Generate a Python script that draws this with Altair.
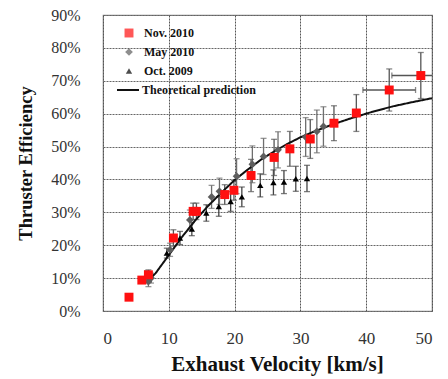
import altair as alt
import pandas as pd

# ---- data ----
nov_v = [3.95, 5.9, 6.9, 10.7, 13.7, 14.2, 18.5, 19.9, 22.5, 26.0, 28.4, 31.5, 35.1, 38.5, 43.5, 48.3]
nov_eff = [4.2, 9.4, 11.0, 22.2, 30.3, 30.3, 35.4, 36.7, 41.2, 46.7, 49.3, 52.3, 57.1, 60.2, 67.2, 71.6]
nov_err = [0, 0.8, 1.5, 2.5, 2.5, 2.5, 3.0, 3.0, 4.9, 5.5, 5.3, 5.9, 5.3, 5.6, 6.4, 7.0]
nov_verr = [0, 0, 0, 0, 0, 0, 0, 0, 0, 0, 0, 0, 0, 0, 4.0, 4.4]

may_v = [6.9, 7.3, 10.2, 13.2, 16.5, 17.7, 20.3, 22.7, 24.4, 26.6, 30.8, 32.5, 33.5]
may_eff = [8.9, 10.0, 18.6, 27.7, 34.7, 36.4, 41.0, 44.6, 47.0, 49.0, 52.9, 54.6, 56.1]
may_err = [1.5, 1.5, 2.0, 3.0, 3.5, 4.0, 5.3, 5.6, 5.5, 5.5, 5.9, 6.5, 6.0]

oct_v = [6.7, 9.7, 11.7, 13.5, 15.7, 17.6, 19.4, 21.1, 23.9, 25.9, 27.5, 29.3, 31.0]
oct_eff = [10.7, 17.6, 22.2, 24.9, 29.8, 31.8, 33.3, 34.7, 38.2, 39.1, 39.2, 40.2, 40.3]
oct_err = [1.5, 1.5, 2.0, 2.0, 2.5, 3.0, 3.0, 3.0, 3.5, 3.8, 3.5, 3.8, 4.0]

theory_v = [7.0, 8, 10, 12, 14, 16, 18, 20, 22, 24, 26, 28, 30, 32, 35, 38, 41, 44, 47, 50]
theory_eff = [9.5, 11.5, 17, 22.5, 27.5, 32, 36, 39.8, 43, 46, 48.5, 50.8, 52.8, 54.5, 56.8, 58.8, 60.6, 62.2, 63.5, 64.7]

series_names = ["Nov. 2010", "May 2010", "Oct. 2009"]
series_colors = ["#ff1010", "#5e5e5e", "#000000"]
series_shapes = ["square", "diamond", "triangle-up"]
series_sizes = [80, 40, 42]
bar_colors = {"Nov. 2010": "#555555", "May 2010": "#6e6e6e", "Oct. 2009": "#444444"}
line_name = "Theoretical prediction"

x_ticks = [0, 10, 20, 30, 40, 50]
y_ticks = [0, 0.1, 0.2, 0.3, 0.4, 0.5, 0.6, 0.7, 0.8, 0.9]

rows = []
for name, vs, es, ers in [("Oct. 2009", oct_v, oct_eff, oct_err),
                          ("May 2010", may_v, may_eff, may_err),
                          ("Nov. 2010", nov_v, nov_eff, nov_err)]:
    for i, (v, e, er) in enumerate(zip(vs, es, ers)):
        verr = nov_verr[i] if name == "Nov. 2010" else 0
        rows.append({"series": name, "v": v, "eff": e / 100,
                     "lo": (e - er) / 100, "hi": (e + er) / 100,
                     "vlo": v - verr, "vhi": v + verr, "err": er, "verr": verr,
                     "bar": bar_colors[name]})
pts = pd.DataFrame(rows)
theory = pd.DataFrame({"v": theory_v, "eff": [e / 100 for e in theory_eff],
                       "series": line_name})

FONT = "Liberation Serif"
xscale = alt.Scale(domain=[0, 50], nice=False)
yscale = alt.Scale(domain=[0, 0.9], nice=False)

xaxis = alt.Axis(
    title="Exhaust Velocity [km/s]", values=x_ticks, format="d",
    grid=True, gridDash=[2, 1], gridColor="#555555", gridWidth=1,
    ticks=False, domain=False, labelPadding=19, titlePadding=7, labelOverlap=False,
    labelFont=FONT, labelFontSize=17, labelColor="#333333", titleX=174,
    titleFont=FONT, titleFontSize=21, titleFontWeight="bold", titleColor="#111111")
yaxis = alt.Axis(
    title="Thruster  Efficiency", values=y_ticks, format=".0%",
    grid=True, gridDash=[2, 1], gridColor="#666666", gridWidth=1,
    ticks=False, domain=False, labelPadding=23, titlePadding=15, labelOverlap=False,
    labelFont=FONT, labelFontSize=16, labelColor="#333333",
    titleFont=FONT, titleFontSize=18.5, titleFontWeight="bold", titleColor="#111111")


def X(field):
    return alt.X(field, type="quantitative", scale=xscale, axis=xaxis)


def Y(field):
    return alt.Y(field, type="quantitative", scale=yscale, axis=yaxis)


color = alt.Color("series:N", scale=alt.Scale(domain=series_names, range=series_colors),
                  legend=alt.Legend(
                      title=None, orient="none", legendX=20, legendY=12, padding=0,
                      labelFont=FONT, labelFontSize=12, labelFontWeight="bold",
                      labelColor="#111111", symbolSize=60, rowPadding=7,
                      labelOffset=9, symbolOpacity=1, symbolStrokeWidth=0))
shape = alt.Shape("series:N", scale=alt.Scale(domain=series_names, range=series_shapes))
size = alt.Size("series:N", scale=alt.Scale(domain=series_names, range=series_sizes), legend=None)
barcol = alt.Color("bar:N", scale=None)

base = alt.Chart(pts)
vsel = base.transform_filter("datum.err > 0")
hsel = base.transform_filter("datum.verr > 0")

vbars = vsel.mark_rule(strokeWidth=1.3).encode(x=X("v"), y=Y("lo"), y2="hi:Q", color=barcol)
vcap_lo = vsel.mark_tick(orient="horizontal", size=6, thickness=1.3).encode(x=X("v"), y=Y("lo"), color=barcol)
vcap_hi = vsel.mark_tick(orient="horizontal", size=6, thickness=1.3).encode(x=X("v"), y=Y("hi"), color=barcol)
hbars = hsel.mark_rule(strokeWidth=1.3, clip=True).encode(x=X("vlo"), x2="vhi:Q", y=Y("eff"), color=barcol)
hcap_lo = hsel.mark_tick(orient="vertical", size=6, thickness=1.3, clip=True).encode(x=X("vlo"), y=Y("eff"), color=barcol)
hcap_hi = hsel.mark_tick(orient="vertical", size=6, thickness=1.3, clip=True).encode(x=X("vhi"), y=Y("eff"), color=barcol)

points = base.mark_point(filled=True, opacity=1).encode(
    x=X("v"), y=Y("eff"), color=color, shape=shape, size=size)

line = alt.Chart(theory).mark_line(strokeWidth=2, color="#111111").encode(
    x=X("v"), y=Y("eff"),
    strokeDash=alt.StrokeDash("series:N",
                              scale=alt.Scale(domain=[line_name], range=[[1, 0]]),
                              legend=alt.Legend(
                                  title=None, orient="none", legendX=13, legendY=63, padding=0,
                                  labelFont=FONT, labelFontSize=12, labelFontWeight="bold",
                                  labelColor="#111111", symbolSize=484, symbolType="stroke",
                                  symbolStrokeWidth=2, symbolStrokeColor="#111111",
                                  labelOffset=2)))

chart = alt.layer(vbars, vcap_lo, vcap_hi, hbars, hcap_lo, hcap_hi, line, points).properties(
    width=329, height=296,
    autosize=alt.AutoSizeParams(type="none"),
    padding={"left": 103, "top": 15, "right": 16, "bottom": 68},
    background="white",
).configure_view(stroke="#888888", strokeWidth=1.2)

chart.save("out.html", embed_options={"renderer": "svg", "actions": False})
